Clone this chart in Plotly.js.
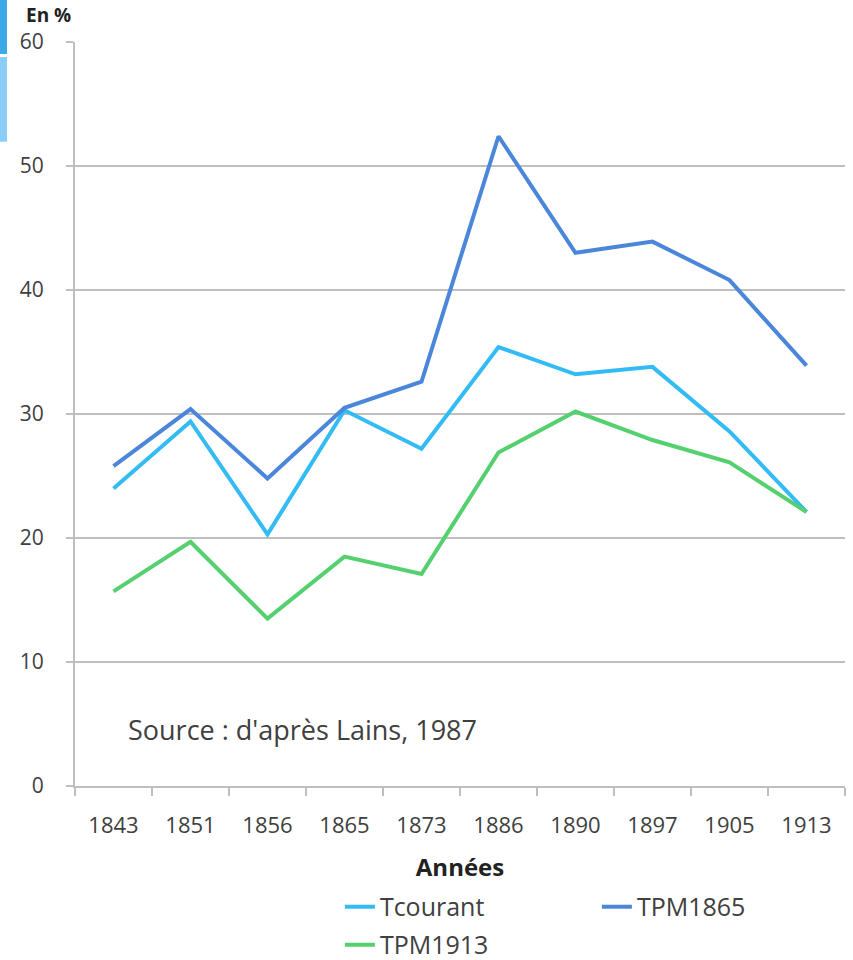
<!DOCTYPE html>
<html>
<head>
<meta charset="utf-8">
<script src="https://cdn.plot.ly/plotly-3.0.1.min.js"></script>
<style>
  html, body { margin: 0; padding: 0; background: #ffffff; }
  #chart { width: 853px; height: 960px; }
</style>
</head>
<body>
<div id="chart"></div>
<script>
const years = ["1843", "1851", "1856", "1865", "1873", "1886", "1890", "1897", "1905", "1913"];
const tcourant = [24.0, 29.4, 20.3, 30.3, 27.2, 35.4, 33.2, 33.8, 28.6, 22.1];
const tpm1865  = [25.8, 30.4, 24.8, 30.5, 32.6, 52.4, 43.0, 43.9, 40.8, 33.9];
const tpm1913  = [15.7, 19.7, 13.5, 18.5, 17.1, 26.9, 30.2, 27.9, 26.1, 22.1];
const yTicks = [0, 10, 20, 30, 40, 50, 60];

const FONT = "'Open Sans', 'Noto Sans', sans-serif";
const TXT = "#404040";

const traces = [
  { x: years, y: tcourant, name: "Tcourant", type: "scatter", mode: "lines",
    line: { color: "#33BBF5", width: 4 }, legend: "legend" },
  { x: years, y: tpm1865, name: "TPM1865", type: "scatter", mode: "lines",
    line: { color: "#4A86DA", width: 4 }, legend: "legend" },
  { x: years, y: tpm1913, name: "TPM1913", type: "scatter", mode: "lines",
    line: { color: "#55D06F", width: 4 }, legend: "legend2" }
];

const layout = {
  width: 853, height: 960,
  margin: { l: 75, r: 8, t: 42, b: 174, autoexpand: false },
  paper_bgcolor: "#ffffff",
  plot_bgcolor: "#ffffff",
  font: { family: FONT, color: TXT, size: 21 },
  showlegend: true,
  xaxis: {
    type: "category",
    categoryorder: "array", categoryarray: years,
    range: [-0.5, 9.5],
    automargin: false,
    tickson: "boundaries",
    ticks: "outside", ticklen: 8, tickwidth: 2, tickcolor: "#BFBFBF",
    showline: true, linecolor: "#BFBFBF", linewidth: 2,
    showgrid: false, zeroline: false,
    tickfont: { family: FONT, size: 22, color: TXT },
    ticklabelstandoff: 19,
    title: { text: "<b>Années</b>", font: { family: FONT, size: 24, color: "#222222" }, standoff: 21 },
    fixedrange: true
  },
  yaxis: {
    range: [0, 60],
    automargin: false,
    tickvals: yTicks,
    ticktext: yTicks.map(String),
    ticks: "outside", ticklen: 7, tickwidth: 2, tickcolor: "#BFBFBF",
    showline: true, linecolor: "#BFBFBF", linewidth: 2,
    showgrid: true, gridcolor: "#BFBFBF", gridwidth: 2,
    zeroline: false,
    tickfont: { family: FONT, size: 21, color: TXT },
    ticklabelstandoff: 18,
    fixedrange: true
  },
  legend: {
    orientation: "h",
    x: 0.344, xanchor: "left",
    y: -0.1626, yanchor: "middle",
    entrywidth: 212,
    font: { family: FONT, size: 25, color: TXT },
    bgcolor: "rgba(0,0,0,0)",
    borderwidth: 0
  },
  legend2: {
    orientation: "h",
    x: 0.344, xanchor: "left",
    y: -0.2137, yanchor: "middle",
    font: { family: FONT, size: 25, color: TXT },
    bgcolor: "rgba(0,0,0,0)",
    borderwidth: 0
  },
  annotations: [
    { text: "<b>En %</b>", xref: "paper", yref: "paper",
      x: -0.066, y: 1.036, xanchor: "left", yanchor: "middle",
      showarrow: false, font: { family: FONT, size: 19, color: "#222222" } },
    { text: "Source : d'après Lains, 1987", xref: "paper", yref: "paper",
      x: 0.066, y: 0.0766, xanchor: "left", yanchor: "middle",
      showarrow: false, font: { family: FONT, size: 27, color: TXT } }
  ],
  shapes: [
    { type: "rect", xref: "paper", yref: "paper", layer: "above",
      x0: -0.0974, x1: -0.0883, y0: 0.9839, y1: 1.06,
      line: { width: 0 }, fillcolor: "#3CA8E8" },
    { type: "rect", xref: "paper", yref: "paper", layer: "above",
      x0: -0.0974, x1: -0.0883, y0: 0.866, y1: 0.9798,
      line: { width: 0 }, fillcolor: "#8ACDF6" }
  ]
};

Plotly.newPlot("chart", traces, layout, { displayModeBar: false, staticPlot: true });
</script>
</body>
</html>
